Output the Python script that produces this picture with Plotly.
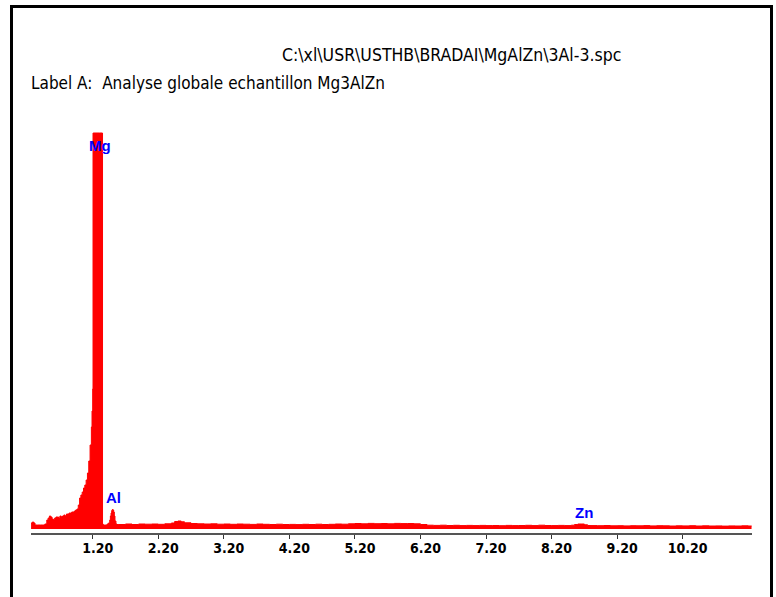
import plotly.graph_objects as go

# Energy (keV) and counts
energy_kev = [
    0.26, 0.28, 0.30, 0.32, 0.36, 0.40, 0.44, 0.47, 0.50, 0.52, 0.54, 0.56, 0.58, 0.60,
    0.62, 0.64, 0.66, 0.68, 0.70, 0.72, 0.74, 0.76, 0.78, 0.80, 0.82, 0.84, 0.86, 0.88,
    0.90, 0.92, 0.94, 0.96, 0.98, 1.00, 1.02, 1.04, 1.06, 1.08, 1.10, 1.12, 1.14, 1.16,
    1.18, 1.19, 1.20, 1.205, 1.21, 1.25, 1.30, 1.345, 1.35, 1.36, 1.38, 1.40, 1.42, 1.44,
    1.46, 1.47, 1.48, 1.49, 1.50, 1.51, 1.52, 1.53, 1.54, 1.555, 1.57, 1.60,
    1.7, 1.8, 1.9, 2.0, 2.1, 2.2, 2.3, 2.4, 2.45, 2.5, 2.55, 2.6, 2.7, 2.8, 2.9,
    3.0, 3.1, 3.2, 3.3, 3.4, 3.5, 3.6, 3.7, 3.8, 3.9, 4.0, 4.1, 4.2, 4.3, 4.4, 4.5,
    4.6, 4.7, 4.8, 4.9, 5.0, 5.1, 5.2, 5.3, 5.4, 5.5, 5.6, 5.7, 5.8, 5.9, 6.0, 6.1,
    6.2, 6.3, 6.4, 6.5, 6.6, 6.7, 6.8, 6.9, 7.0, 7.1, 7.2, 7.3, 7.4, 7.5, 7.6, 7.7,
    7.8, 7.9, 8.0, 8.1, 8.2, 8.3, 8.4, 8.5, 8.55, 8.6, 8.65, 8.7, 8.75, 8.8, 8.9,
    9.0, 9.1, 9.2, 9.3, 9.4, 9.5, 9.6, 9.7, 9.8, 9.9, 10.0, 10.1, 10.2, 10.3, 10.4,
    10.5, 10.6, 10.7, 10.8, 10.9, 11.0, 11.1, 11.2, 11.25,
]
counts = [
    60, 70, 60, 40, 40, 40, 40, 50, 90, 110, 130, 120, 100, 90,
    110, 120, 120, 110, 130, 120, 130, 140, 130, 150, 150, 160, 160, 170,
    170, 180, 190, 200, 240, 310, 340, 370, 410, 440, 490, 560, 680, 840,
    1020, 1180, 1400, 3960, 3960, 3960, 3960, 3960, 50, 40, 40, 40, 50, 60,
    90, 130, 160, 185, 195, 190, 170, 130, 80, 50, 45, 45,
    50, 45, 50, 48, 50, 47, 52, 60, 75, 80, 72, 62, 55, 52, 50,
    52, 48, 50, 47, 50, 48, 46, 50, 47, 45, 48, 45, 46, 44, 47, 45,
    48, 45, 47, 50, 48, 52, 55, 52, 56, 53, 55, 52, 56, 54, 55, 52,
    45, 38, 36, 38, 35, 37, 34, 36, 34, 36, 34, 35, 33, 36, 34, 35,
    37, 34, 38, 35, 34, 36, 34, 38, 45, 50, 50, 42, 35, 34, 33,
    35, 32, 33, 31, 33, 32, 34, 31, 33, 32, 30, 32, 31, 33, 30,
    32, 30, 31, 29, 31, 30, 32, 30, 31,
]

tick_values = [1.2, 2.2, 3.2, 4.2, 5.2, 6.2, 7.2, 8.2, 9.2, 10.2]
tick_labels = ["1.20", "2.20", "3.20", "4.20", "5.20", "6.20", "7.20", "8.20", "9.20", "10.20"]

element_names = ["Mg", "Al", "Zn"]
element_kev = [1.31, 1.52, 8.69]
element_counts = [3840, 315, 165]

file_title = "C:\\xl\\USR\\USTHB\\BRADAI\\MgAlZn\\3Al-3.spc"
label_text = "Label A:  Analyse globale echantillon Mg3AlZn"

narrow = "Liberation Sans Narrow, Arial Narrow, DejaVu Sans Condensed, sans-serif"

fig = go.Figure()
fig.add_trace(go.Scatter(
    x=energy_kev, y=counts, mode="lines", fill="tozeroy",
    line=dict(color="#ff0000", width=1, shape="hv"),
    fillcolor="#ff0000", hoverinfo="skip", showlegend=False,
))

for name, xk, yc in zip(element_names, element_kev, element_counts):
    fig.add_annotation(x=xk, y=yc, xref="x", yref="y", text="<b>%s</b>" % name,
                       showarrow=False, font=dict(family="Liberation Sans, Arial, sans-serif",
                                                  size=15, color="#0000ff"))

fig.add_annotation(x=(451 - 31) / 721, y=(533 - 54.5) / 433, xref="paper", yref="paper",
                   text=file_title, showarrow=False, xanchor="center", yanchor="middle",
                   font=dict(family=narrow, size=17.5, color="#000000"))
fig.add_annotation(x=(29 - 31) / 721, y=(533 - 82.5) / 433, xref="paper", yref="paper",
                   text=label_text, showarrow=False, xanchor="left", yanchor="middle",
                   font=dict(family=narrow, size=17, color="#000000"))

fig.add_shape(type="rect", xref="paper", yref="paper",
              x0=(11.5 - 31) / 721, x1=(771.5 - 31) / 721,
              y0=(533 - 620) / 433, y1=(533 - 6.5) / 433,
              line=dict(color="#000000", width=3), fillcolor="rgba(0,0,0,0)")

fig.update_layout(
    width=776, height=597,
    margin=dict(l=31, r=24, t=100, b=64),
    paper_bgcolor="#ffffff", plot_bgcolor="#ffffff",
    xaxis=dict(range=[0.259, 11.257], showgrid=False, zeroline=False,
               showline=True, linecolor="#555555", linewidth=2,
               ticks="outside", ticklen=4, tickwidth=1, tickcolor="#333333",
               tickvals=tick_values, ticktext=tick_labels, ticklabelshift=5,
               ticklabelstandoff=-3,
               tickfont=dict(family=narrow, size=14, color="#000000", weight="bold")),
    yaxis=dict(range=[-40, 4290], visible=False, showgrid=False, zeroline=False),
)

fig.write_html("out.html", config={"displayModeBar": False},
               post_script="document.body.style.margin='0';")
